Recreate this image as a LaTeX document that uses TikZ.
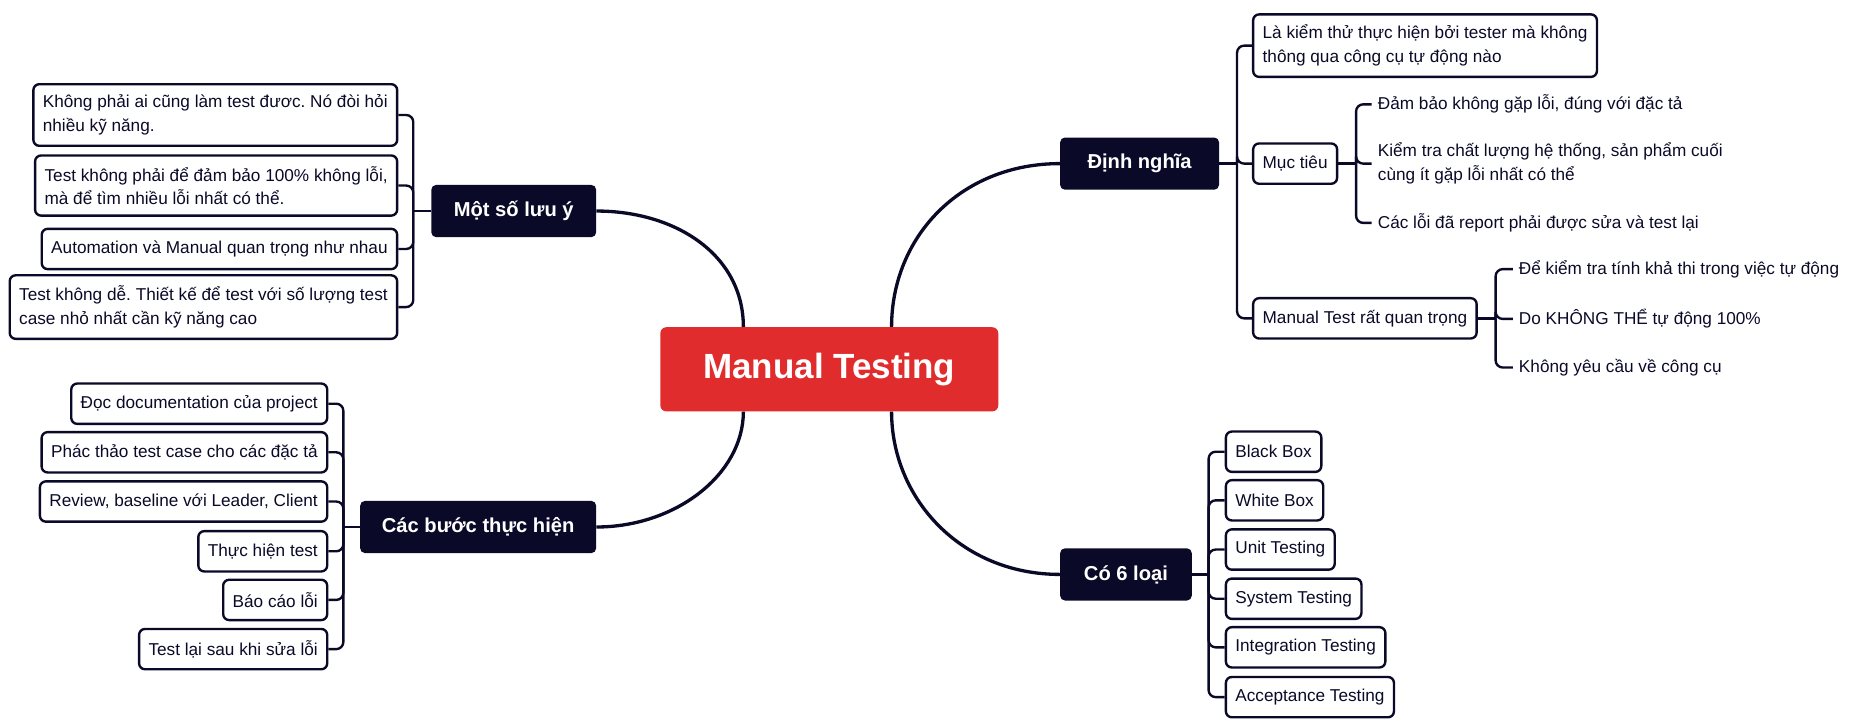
\documentclass[tikz,border=0pt]{standalone}
\usepackage{fontspec}
\setmainfont{Liberation Sans}
\usetikzlibrary{positioning}
\definecolor{navy}{RGB}{10,10,40}
\definecolor{rootred}{RGB}{225,44,46}
\frenchspacing

\begin{document}
\begin{tikzpicture}[x=1pt,y=-1pt]
    \tikzstyle{root}=[rectangle, rounded corners=5pt, fill=rootred, text=white, font=\fontsize{29.5}{34}\selectfont\bfseries, minimum width=285pt, minimum height=71pt]
    \tikzstyle{topic}=[rectangle, rounded corners=4pt, fill=navy, text=white, font=\fontsize{17}{20}\selectfont\bfseries, minimum height=44pt]
    \tikzstyle{leaf}=[rectangle, rounded corners=5pt, draw=navy, line width=2pt, fill=white, text=navy, font=\fontsize{14.5}{20}\selectfont, align=left, inner xsep=8pt, inner ysep=9pt, minimum height=34pt]
    \tikzstyle{note}=[text=navy, font=\fontsize{14.5}{20}\selectfont, align=left, inner xsep=5pt, inner ysep=2pt]
    \tikzstyle{link}=[draw=navy, line width=2pt, rounded corners=6pt]
    \tikzstyle{trunk}=[draw=navy, line width=2.8pt]
    \useasboundingbox (0,0) rectangle (1568,612.3);

    \node[root] (root) at (699.5,311.5) {Manual Testing};
    \node[topic, minimum width=139pt, anchor=east] (luuy) at (503,178) {Một số lưu ý};
    \node[topic, minimum width=199pt, anchor=east] (buoc) at (503,444.5) {Các bước thực hiện};
    \node[topic, minimum width=134pt, anchor=west] (dinh) at (894,138) {Định nghĩa};
    \node[topic, minimum width=111pt, anchor=west] (loai) at (894,484.5) {Có 6 loại};

    % Mot so luu y
    \node[leaf, anchor=east] (luuy1) at (336,97) {Không phải ai cũng làm test đươc. Nó đòi hỏi\\nhiều kỹ năng.};
    \node[leaf, anchor=east] (luuy2) at (336,156.5) {Test không phải để đảm bảo 100\% không lỗi,\\mà để tìm nhiều lỗi nhất có thể.};
    \node[leaf, anchor=east] (luuy3) at (336,210) {Automation và Manual quan trọng như nhau};
    \node[leaf, anchor=east] (luuy4) at (336,259) {Test không dễ. Thiết kế để test với số lượng test\\case nhỏ nhất cần kỹ năng cao};

    % Cac buoc thuc hien
    \node[leaf, anchor=east] (buoc1) at (277,340.5) {Đọc documentation của project};
    \node[leaf, anchor=east] (buoc2) at (277,381.5) {Phác thảo test case cho các đặc tả};
    \node[leaf, anchor=east] (buoc3) at (277,423) {Review, baseline với Leader, Client};
    \node[leaf, anchor=east] (buoc4) at (277,465) {Thực hiện test};
    \node[leaf, anchor=east] (buoc5) at (277,506) {Báo cáo lỗi};
    \node[leaf, anchor=east] (buoc6) at (277,547.5) {Test lại sau khi sửa lỗi};

    % Dinh nghia
    \node[leaf, anchor=west] (dinh1) at (1056,38.5) {Là kiểm thử thực hiện bởi tester mà không\\thông qua công cụ tự động nào};
    \node[leaf, anchor=west] (muc) at (1056,138) {Mục tiêu};
    \node[leaf, anchor=west] (quan) at (1056,268.5) {Manual Test rất quan trọng};
    \node[note, anchor=west] (muc1) at (1157,88) {Đảm bảo không gặp lỗi, đúng với đặc tả};
    \node[note, anchor=west] (muc2) at (1157,138) {Kiểm tra chất lượng hệ thống, sản phẩm cuối\\cùng ít gặp lỗi nhất có thể};
    \node[note, anchor=west] (muc3) at (1157,188) {Các lỗi đã report phải được sửa và test lại};
    \node[note, anchor=west] (quan1) at (1276,227) {Để kiểm tra tính khả thi trong việc tự động};
    \node[note, anchor=west] (quan2) at (1276,269) {Do KHÔNG THỂ tự động 100\%};
    \node[note, anchor=west] (quan3) at (1276,310) {Không yêu cầu về công cụ};

    % Co 6 loai
    \node[leaf, anchor=west] (loai1) at (1033,381) {Black Box};
    \node[leaf, anchor=west] (loai2) at (1033,422) {White Box};
    \node[leaf, anchor=west] (loai3) at (1033,463.5) {Unit Testing};
    \node[leaf, anchor=west] (loai4) at (1033,505) {System Testing};
    \node[leaf, anchor=west] (loai5) at (1033,546) {Integration Testing};
    \node[leaf, anchor=west] (loai6) at (1033,588) {Acceptance Testing};

    % bars
    \coordinate[left=15pt of luuy.west] (jluuy);
    \coordinate[left=14pt of buoc.west] (jbuoc);
    \coordinate[right=15pt of dinh.east] (jdinh);
    \coordinate[right=14pt of loai.east] (jloai);
    \coordinate[right=15pt of muc.east] (jmuc);
    \coordinate[right=15pt of quan.east] (jquan);

    \draw[link] (luuy.west) -- (jluuy);
    \foreach \n in {luuy1,luuy2,luuy3,luuy4} \draw[link] (jluuy) |- (\n.east);
    \draw[link] (buoc.west) -- (jbuoc);
    \foreach \n in {buoc1,buoc2,buoc3,buoc4,buoc5,buoc6} \draw[link] (jbuoc) |- (\n.east);
    \draw[link] (dinh.east) -- (jdinh);
    \foreach \n in {dinh1,muc,quan} \draw[link] (jdinh) |- (\n.west);
    \draw[link] (muc.east) -- (jmuc);
    \foreach \n in {muc1,muc2,muc3} \draw[link] (jmuc) |- (\n.west);
    \draw[link] (quan.east) -- (jquan);
    \foreach \n in {quan1,quan2,quan3} \draw[link] (jquan) |- (\n.west);
    \draw[link] (loai.east) -- (jloai);
    \foreach \n in {loai1,loai2,loai3,loai4,loai5,loai6} \draw[link] (jloai) |- (\n.west);

    % trunk
    \coordinate (rtl) at ([xshift=-72.5pt]root.north);
    \coordinate (rtr) at ([xshift=52.5pt]root.north);
    \coordinate (rbl) at ([xshift=-72.5pt]root.south);
    \coordinate (rbr) at ([xshift=52.5pt]root.south);
    \draw[trunk] (luuy.east) .. controls (570,178) and (627,215) .. (rtl);
    \draw[trunk] (dinh.west) .. controls (810,138) and (752,200) .. (rtr);
    \draw[trunk] (buoc.east) .. controls (570,444.5) and (627,400) .. (rbl);
    \draw[trunk] (loai.west) .. controls (810,484.5) and (752,420) .. (rbr);
\end{tikzpicture}
\end{document}
